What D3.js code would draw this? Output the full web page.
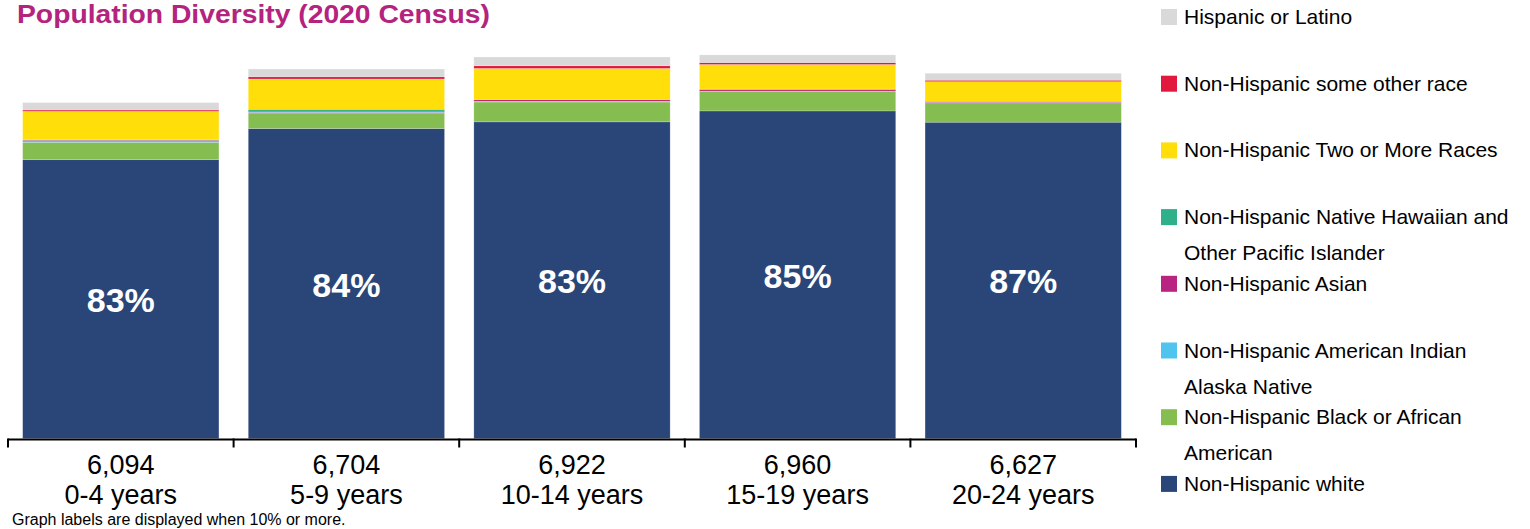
<!DOCTYPE html>
<html><head><meta charset="utf-8">
<script src="https://cdn.jsdelivr.net/npm/d3@7"></script>
<style>
body{margin:0;background:#fff}
svg{display:block}
text{font-family:"Liberation Sans",Arial,sans-serif}
</style>
</head><body>
<svg id="c" width="1530" height="529"></svg>
<script>
// ---- data ----
const categories = ["0-4 years","5-9 years","10-14 years","15-19 years","20-24 years"];
const totals = [6094, 6704, 6922, 6960, 6627];
// percentage shares, stacked bottom to top
const nhWhite     = [83.0, 83.9, 83.0, 85.4, 86.6];
const nhBlack     = [5.2, 4.2, 5.2, 5.0, 5.3];
const nhAIAN      = [0.2, 0.2, 0.2, 0.1, 0.1];
const nhAsian     = [0.4, 0.3, 0.4, 0.4, 0.3];
const nhNHPI      = [0.1, 0.5, 0.1, 0.2, 0.0];
const nhTwoOrMore = [8.5, 8.2, 8.1, 6.4, 5.4];
const nhOther     = [0.4, 0.6, 0.7, 0.5, 0.4];
const hispanic    = [2.2, 2.1, 2.3, 2.0, 1.9];
const seriesKeys = ["white","black","aian","asian","nhpi","two","other","hisp"];
const seriesValues = [nhWhite, nhBlack, nhAIAN, nhAsian, nhNHPI, nhTwoOrMore, nhOther, hispanic];
const seriesColors = ["#2a4679","#86bd50","#4fc4ef","#b8247f","#2eb08b","#ffde0a","#e2193f","#d9d9d9"];
// legend (top to bottom)
const legendKeys = ["hisp","other","two","nhpi","asian","aian","black","white"];
const legendLabels = [
  ["Hispanic or Latino"],
  ["Non-Hispanic some other race"],
  ["Non-Hispanic Two or More Races"],
  ["Non-Hispanic Native Hawaiian and","Other Pacific Islander"],
  ["Non-Hispanic Asian"],
  ["Non-Hispanic American Indian","Alaska Native"],
  ["Non-Hispanic Black or African","American"],
  ["Non-Hispanic white"]
];
const titleText = "Population Diversity (2020 Census)";
const noteText = "Graph labels are displayed when 10% or more.";
const labelThreshold = 10;

// ---- build ----
const svg = d3.select("#c");
const rows = categories.map((c, i) => {
  const r = {cat: c, total: totals[i]};
  seriesKeys.forEach((k, j) => { r[k] = totals[i] * seriesValues[j][i] / 100; r[k + "_pct"] = seriesValues[j][i]; });
  return r;
});
const stacked = d3.stack().keys(seriesKeys)(rows);
const color = d3.scaleOrdinal().domain(seriesKeys).range(seriesColors);

const x = d3.scaleBand().domain(categories).range([8, 1136]).paddingInner(0.13).paddingOuter(0.065);
const y = d3.scaleLinear().domain([0, 7000]).range([438.5, 52.7]);

// bars
svg.append("g").selectAll("g").data(stacked).join("g")
  .attr("fill", d => color(d.key))
  .selectAll("rect").data(d => d).join("rect")
  .attr("x", d => x(d.data.cat))
  .attr("width", x.bandwidth())
  .attr("y", d => y(d[1]))
  .attr("height", d => Math.max(0, y(d[0]) - y(d[1])))
  .attr("stroke", "rgba(255,255,255,0.35)")
  .attr("stroke-width", 0.6);

// bar labels
const labelData = [];
stacked.forEach(s => s.forEach(d => {
  const p = d.data[s.key + "_pct"];
  if (p >= labelThreshold) labelData.push({cat: d.data.cat, y0: d[0], y1: d[1], p});
}));
svg.append("g").selectAll("text").data(labelData).join("text")
  .attr("x", d => x(d.cat) + x.bandwidth() / 2)
  .attr("y", d => (y(d.y0) + y(d.y1)) / 2 + 13)
  .attr("text-anchor", "middle")
  .attr("fill", "#fff")
  .attr("font-weight", "bold")
  .attr("font-size", 34)
  .text(d => Math.round(d.p) + "%");

// axis
const axisY = 439.5;
const step = x.step();
const r0 = x.range()[0];
const ax = svg.append("g");
ax.append("line").attr("x1", r0).attr("x2", x.range()[1]).attr("y1", axisY).attr("y2", axisY)
  .attr("stroke", "#000").attr("stroke-width", 2);
ax.selectAll("line.tick").data(d3.range(categories.length + 1)).join("line").attr("class","tick")
  .attr("x1", i => r0 + i * step).attr("x2", i => r0 + i * step)
  .attr("y1", axisY - 1).attr("y2", axisY + 8)
  .attr("stroke", "#000").attr("stroke-width", 2);
const cx = d => x(d.cat) + x.bandwidth() / 2;
ax.selectAll("text.tot").data(rows).join("text").attr("class","tot")
  .attr("x", cx).attr("y", 474)
  .attr("text-anchor", "middle").attr("font-size", 27).attr("fill", "#000")
  .text(d => d3.format(",")(d.total));
ax.selectAll("text.cat").data(rows).join("text").attr("class","cat")
  .attr("x", cx).attr("y", 504)
  .attr("text-anchor", "middle").attr("font-size", 27).attr("fill", "#000")
  .text(d => d.cat);

// note
svg.append("text").attr("x", 12).attr("y", 525).attr("font-size", 16).attr("fill", "#000").text(noteText);

// title
svg.append("text").attr("x", 17).attr("y", 23)
  .attr("font-family", "Lato, 'Open Sans', sans-serif")
  .attr("font-weight", 900).attr("font-size", 25).attr("fill", "#b4237e")
  .attr("textLength", 473).attr("lengthAdjust", "spacingAndGlyphs")
  .text(titleText);

// legend
const lg = svg.append("g").selectAll("g").data(legendKeys).join("g")
  .attr("transform", (d, i) => `translate(1161,${24 + i * 66.7})`);
lg.append("rect").attr("x", 0).attr("y", -15).attr("width", 16).attr("height", 16).attr("fill", d => color(d));
lg.each(function(d, i) {
  const t = d3.select(this).append("text").attr("font-size", 21).attr("fill", "#000");
  legendLabels[i].forEach((line, j) => t.append("tspan").attr("x", 23).attr("y", j * 36).text(line));
});
</script>
</body></html>
